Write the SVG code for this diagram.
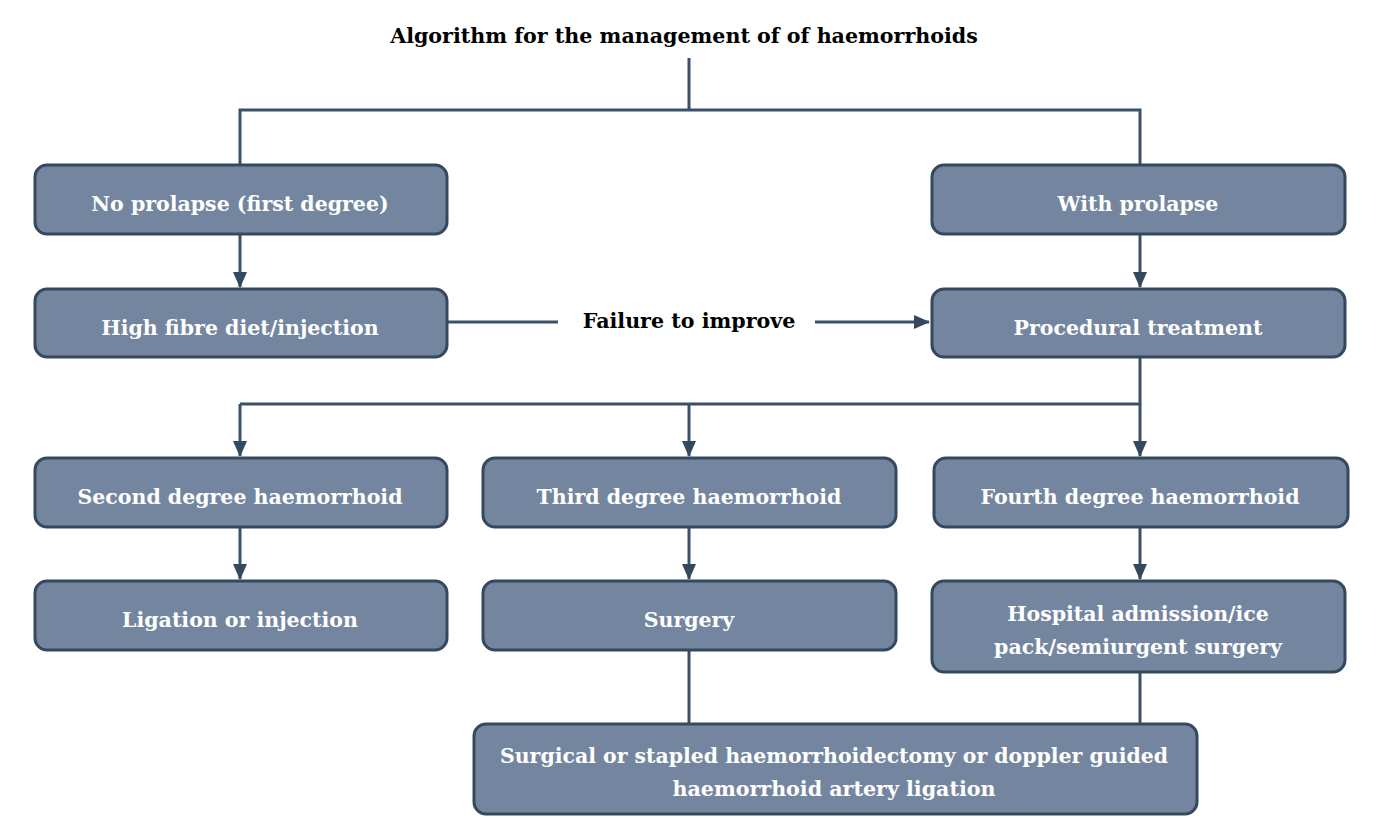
<svg xmlns="http://www.w3.org/2000/svg" width="1400" height="840" viewBox="0 0 1400 840">
<defs>
<style>
.box{fill:#74869F;stroke:#34495E;stroke-width:3}
.t{font-family:"DejaVu Serif","Liberation Serif",serif;font-weight:bold;font-size:20.5px;fill:#ffffff;text-anchor:middle}
.k{font-family:"DejaVu Serif","Liberation Serif",serif;font-weight:bold;font-size:20.6px;fill:#000000;text-anchor:middle}
.ln{fill:none;stroke:#3A506B;stroke-width:3}
</style>
<marker id="ah" viewBox="0 0 16 14" refX="15" refY="7" markerWidth="16" markerHeight="14" markerUnits="userSpaceOnUse" orient="auto">
<path d="M0,0 L16,7 L0,14 Z" fill="#34495E"/>
</marker>
</defs>
<rect width="1400" height="840" fill="#ffffff"/>
<text class="k" x="684" y="43">Algorithm for the management of of haemorrhoids</text>
<g id="connectors">
<path class="ln" d="M689,58 V110 M240,165 V110 H1140 V165"/>
<path class="ln" d="M240,234 V287" marker-end="url(#ah)"/>
<path class="ln" d="M1140,234 V287" marker-end="url(#ah)"/>
<path class="ln" d="M447,322 H558"/>
<path class="ln" d="M815,322 H929" marker-end="url(#ah)"/>
<path class="ln" d="M1140,357 V404 H240"/>
<path class="ln" d="M240,404 V456" marker-end="url(#ah)"/>
<path class="ln" d="M689,404 V456" marker-end="url(#ah)"/>
<path class="ln" d="M1140,404 V456" marker-end="url(#ah)"/>
<path class="ln" d="M240,527 V579" marker-end="url(#ah)"/>
<path class="ln" d="M689,527 V579" marker-end="url(#ah)"/>
<path class="ln" d="M1140,527 V579" marker-end="url(#ah)"/>
<path class="ln" d="M689,650 V724"/>
<path class="ln" d="M1140,672 V724"/>
<text class="k" x="689" y="328">Failure to improve</text>
</g>
<g id="n1"><rect class="box" x="35" y="165" width="412" height="69" rx="12"/><text class="t" x="240" y="211">No prolapse (first degree)</text></g>
<g id="n2"><rect class="box" x="932" y="165" width="413" height="69" rx="12"/><text class="t" x="1138" y="211">With prolapse</text></g>
<g id="n3"><rect class="box" x="35" y="289" width="412" height="68" rx="12"/><text class="t" x="240" y="335">High fibre diet/injection</text></g>
<g id="n4"><rect class="box" x="932" y="289" width="413" height="68" rx="12"/><text class="t" x="1138" y="335">Procedural treatment</text></g>
<g id="n5"><rect class="box" x="35" y="458" width="412" height="69" rx="12"/><text class="t" x="240" y="504">Second degree haemorrhoid</text></g>
<g id="n6"><rect class="box" x="483" y="458" width="413" height="69" rx="12"/><text class="t" x="689" y="504">Third degree haemorrhoid</text></g>
<g id="n7"><rect class="box" x="934" y="458" width="414" height="69" rx="12"/><text class="t" x="1140" y="504">Fourth degree haemorrhoid</text></g>
<g id="n8"><rect class="box" x="35" y="581" width="412" height="69" rx="12"/><text class="t" x="240" y="627">Ligation or injection</text></g>
<g id="n9"><rect class="box" x="483" y="581" width="413" height="69" rx="12"/><text class="t" x="689" y="627">Surgery</text></g>
<g id="n10"><rect class="box" x="932" y="581" width="413" height="91" rx="12"/><text class="t" x="1138" y="621">Hospital admission/ice</text><text class="t" x="1138" y="654">pack/semiurgent surgery</text></g>
<g id="n11"><rect class="box" x="474" y="724" width="723" height="90" rx="12"/><text class="t" x="834" y="763" textLength="668" lengthAdjust="spacingAndGlyphs">Surgical or stapled haemorrhoidectomy or doppler guided</text><text class="t" x="834" y="796" textLength="323" lengthAdjust="spacingAndGlyphs">haemorrhoid artery ligation</text></g>
</svg>
